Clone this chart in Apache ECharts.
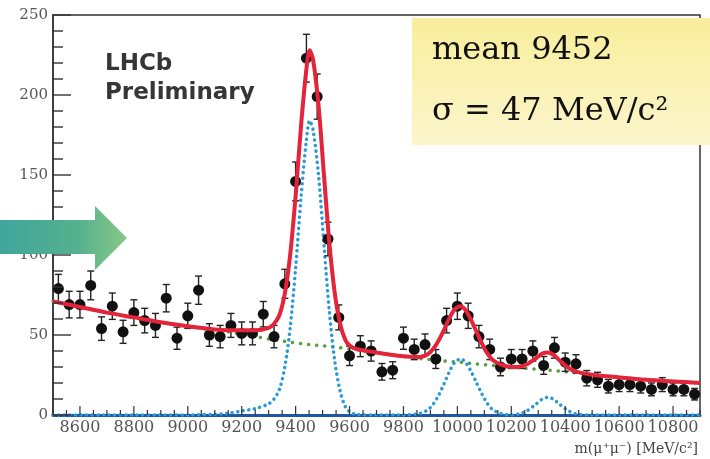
<!DOCTYPE html>
<html>
<head>
<meta charset="utf-8">
<script src="https://cdn.jsdelivr.net/npm/echarts@6/dist/echarts.min.js"></script>
<style>
  html, body { margin: 0; padding: 0; background: #fff; }
  #chart { width: 710px; height: 459px; }
</style>
</head>
<body>
<div id="chart"></div>
<script>
// Dimuon invariant mass spectrum, 40 MeV/c^2 bins
const massBins = [8520, 8560, 8600, 8640, 8680, 8720, 8760, 8800, 8840, 8880,
  8920, 8960, 9000, 9040, 9080, 9120, 9160, 9200, 9240, 9280,
  9320, 9360, 9400, 9440, 9480, 9520, 9560, 9600, 9640, 9680,
  9720, 9760, 9800, 9840, 9880, 9920, 9960, 10000, 10040, 10080,
  10120, 10160, 10200, 10240, 10280, 10320, 10360, 10400, 10440, 10480,
  10520, 10560, 10600, 10640, 10680, 10720, 10760, 10800, 10840, 10880];
const counts = [79, 69, 69, 81, 54, 68, 52, 64, 59, 56,
  73, 48, 62, 78, 50, 49, 56, 51, 51, 63,
  49, 82, 146, 223, 199, 110, 61, 37, 43, 40,
  27, 28, 48, 41, 44, 35, 59, 68, 62, 49,
  41, 30, 35, 35, 40, 31, 42, 33, 32, 23,
  22, 18, 19, 19, 18, 16, 19, 16, 16, 13];

// Fit curves sampled along the mass axis
const fitMass = [8500, 8600, 8700, 8800, 8900, 9000, 9100, 9150, 9200, 9250,
  9300, 9320, 9340, 9360, 9380, 9400, 9420, 9440, 9452, 9465,
  9485, 9505, 9525, 9545, 9565, 9585, 9605, 9630, 9700, 9780,
  9860, 9890, 9910, 9930, 9950, 9970, 9990, 10012, 10030, 10050,
  10070, 10090, 10110, 10130, 10160, 10200, 10230, 10260, 10290, 10315,
  10335, 10355, 10380, 10410, 10440, 10500, 10600, 10700, 10800, 10900];
const fitBackground = [71, 67.5, 64, 61, 58, 55.5, 53, 52, 50.5, 49,
  47.5, 47, 46.5, 46, 45.5, 45, 44.6, 44.2, 44, 43.8,
  43.5, 43.2, 42.8, 42.4, 42, 41.7, 41.3, 40.8, 39, 37,
  35.3, 34.8, 34.5, 34.2, 33.8, 33.5, 33.2, 33, 32.6, 32.2,
  31.9, 31.6, 31.3, 31, 30.6, 30, 29.5, 29.1, 28.7, 28.4,
  28.1, 27.8, 27.4, 26.9, 26.4, 25.2, 23.5, 22, 21, 20];
const fitSignal = [0, 0, 0, 0, 0, 0, 0.5, 1, 2.5, 4,
  7, 10, 16, 30, 55, 92, 136, 172, 184, 178,
  150, 107, 65, 34, 15, 5, 1.5, 0.3, 0, 0,
  0.9, 3.2, 6.7, 12.2, 19.3, 26.9, 32.8, 35, 33, 27.5,
  20.5, 13.5, 7.5, 3.5, 1, 0, 0.7, 2.8, 6.6, 10,
  11, 10, 6.6, 2.8, 0.7, 0, 0, 0, 0, 0];
const fitTotal = [71, 67.5, 64, 61, 58, 55.5, 53.5, 53, 53, 53,
  54.5, 57, 62.5, 76, 100.5, 137, 180.6, 216.2, 228, 221.8,
  193.5, 150.2, 107.8, 76.4, 57, 46.7, 42.8, 41.1, 39, 37,
  36.2, 38, 41.2, 46.4, 53.1, 60.4, 66, 68, 65.6, 59.7,
  52.4, 45.1, 38.8, 34.5, 31.6, 30, 30.2, 31.9, 35.3, 38.4,
  39.1, 37.8, 34, 29.7, 27.1, 25.2, 23.5, 22, 21, 20];

const xTickLabels = [8600, 8800, 9000, 9200, 9400, 9600, 9800, 10000, 10200, 10400, 10600, 10800];
const yTickLabels = [0, 50, 100, 150, 200, 250];
const X_MIN = 8500, X_MAX = 10900, X_MINOR = 50;
const Y_MIN = 0, Y_MAX = 250, Y_MINOR = 10;

const pts = massBins.map((m, i) => [m, counts[i]]);
const errs = massBins.map((m, i) => [m, counts[i] - Math.sqrt(counts[i]), counts[i] + Math.sqrt(counts[i])]);
const curve = (ys) => fitMass.map((m, i) => [m, ys[i]]);

// Inward frame ticks as [x, y, kind]: kind 0/1 = mass-axis minor/major, 2/3 = count-axis minor/major
const frameTicks = [];
for (let v = X_MIN; v <= X_MAX; v += X_MINOR) frameTicks.push([v, Y_MIN, xTickLabels.includes(v) ? 1 : 0]);
for (let v = Y_MIN; v <= Y_MAX; v += Y_MINOR) frameTicks.push([X_MIN, v, yTickLabels.includes(v) ? 3 : 2]);
const TICK_LEN = [5, 9, 10, 18];

const serif = '"DejaVu Serif", "Liberation Serif", serif';

const chart = echarts.init(document.getElementById('chart'), null, { renderer: 'canvas' });
chart.setOption({
  animation: false,
  backgroundColor: '#ffffff',
  grid: { left: 53, right: 10, top: 15, bottom: 44, show: true, borderColor: '#333', borderWidth: 1.5, backgroundColor: 'transparent' },
  xAxis: {
    type: 'value', min: X_MIN, max: X_MAX, position: 'bottom',
    axisLine: { show: true, lineStyle: { color: '#1d58a8', width: 3 } },
    axisTick: { show: false },
    axisLabel: {
      customValues: xTickLabels, color: '#555', fontFamily: serif, fontSize: 16, margin: 5,
      hideOverlap: false, showMinLabel: true, showMaxLabel: true,
      formatter: (v) => String(v)
    },
    splitLine: { show: false },
    name: 'm(μ⁺μ⁻) [MeV/c²]', nameLocation: 'end', nameGap: -2,
    nameTextStyle: { fontFamily: serif, fontSize: 14, color: '#444', align: 'right', verticalAlign: 'top', padding: [27, 0, 0, 0] }
  },
  yAxis: {
    type: 'value', min: Y_MIN, max: Y_MAX, interval: 50,
    axisLine: { show: true, lineStyle: { color: '#333', width: 1.5 } },
    axisTick: { show: false },
    axisLabel: { color: '#555', fontFamily: serif, fontSize: 15, margin: 5 },
    splitLine: { show: false }
  },
  series: [
    {
      name: 'frameTicks', type: 'custom', data: frameTicks, z: 10, silent: true, clip: false,
      renderItem: (params, api) => {
        const p = api.coord([api.value(0), api.value(1)]);
        const kind = api.value(2);
        const len = TICK_LEN[kind];
        if (kind < 2) {
          return { type: 'rect', shape: { x: p[0] - 0.6, y: p[1] - len, width: 1.2, height: len }, style: { fill: '#333' } };
        }
        return { type: 'rect', shape: { x: p[0], y: p[1] - 0.7, width: len, height: 1.4 }, style: { fill: '#333' } };
      }
    },
    {
      name: 'background', type: 'line', data: curve(fitBackground), smooth: 0.3,
      showSymbol: false, z: 2,
      lineStyle: { color: '#58a03a', width: 3.5, type: [0.1, 8], cap: 'round' }
    },
    {
      name: 'signal', type: 'line', data: curve(fitSignal), smooth: 0.3,
      showSymbol: false, z: 2,
      lineStyle: { color: '#2b9ad6', width: 3.5, type: [0.1, 5.5], cap: 'round' }
    },
    {
      name: 'errors', type: 'custom', data: errs, z: 3,
      renderItem: (params, api) => {
        const x = api.value(0);
        const lo = api.coord([x, api.value(1)]);
        const hi = api.coord([x, api.value(2)]);
        const style = { stroke: '#222', lineWidth: 1.4 };
        return {
          type: 'group',
          children: [
            { type: 'line', shape: { x1: lo[0], y1: lo[1], x2: hi[0], y2: hi[1] }, style },
            { type: 'line', shape: { x1: lo[0] - 3.5, y1: lo[1], x2: lo[0] + 3.5, y2: lo[1] }, style },
            { type: 'line', shape: { x1: hi[0] - 3.5, y1: hi[1], x2: hi[0] + 3.5, y2: hi[1] }, style }
          ]
        };
      }
    },
    {
      name: 'data', type: 'scatter', data: pts, symbol: 'circle', symbolSize: 11, z: 4,
      itemStyle: { color: '#111', opacity: 1 }
    },
    {
      name: 'fit', type: 'line', data: curve(fitTotal), smooth: 0.3,
      showSymbol: false, z: 5,
      lineStyle: { color: '#e4243a', width: 4 }
    }
  ],
  graphic: [
    {
      type: 'polygon', z: 100,
      shape: { points: [[0, 220], [95, 220], [95, 206], [127, 238], [95, 270], [95, 254], [0, 254]] },
      style: {
        fill: new echarts.graphic.LinearGradient(0, 0, 1, 0, [
          { offset: 0, color: '#3ea69c' },
          { offset: 0.6, color: '#55b08e' },
          { offset: 1, color: '#86c986' }
        ])
      }
    },
    {
      type: 'rect', z: 100,
      shape: { x: 412, y: 18, width: 298, height: 127 },
      style: {
        fill: new echarts.graphic.LinearGradient(0, 0, 0, 1, [
          { offset: 0, color: '#f8ee9c' },
          { offset: 1, color: '#fcf5cc' }
        ])
      }
    },
    {
      type: 'text', z: 101, x: 432, y: 51,
      style: { text: 'mean 9452', font: '32px ' + serif, fill: '#111', verticalAlign: 'middle' }
    },
    {
      type: 'text', z: 101, x: 432, y: 112,
      style: { text: 'σ = 47 MeV/c²', font: '32px ' + serif, fill: '#111', verticalAlign: 'middle' }
    },
    {
      type: 'text', z: 101, x: 105, y: 64,
      style: { text: 'LHCb', font: 'bold 23px "DejaVu Sans", sans-serif', fill: '#363636', verticalAlign: 'middle' }
    },
    {
      type: 'text', z: 101, x: 105, y: 93,
      style: { text: 'Preliminary', font: 'bold 23px "DejaVu Sans", sans-serif', fill: '#363636', verticalAlign: 'middle' }
    }
  ]
});
</script>
</body>
</html>
